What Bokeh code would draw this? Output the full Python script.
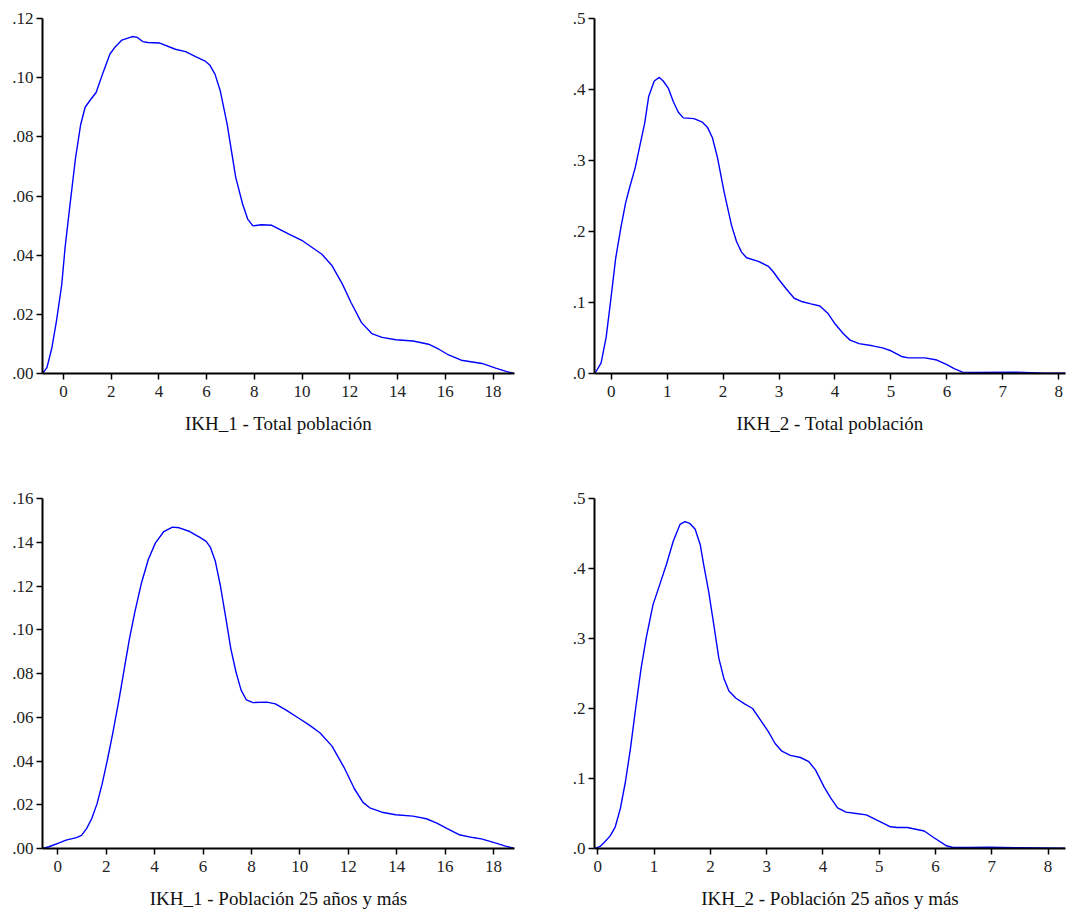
from bokeh.plotting import figure
from bokeh.layouts import gridplot
from bokeh.models import Range1d, FixedTicker
from bokeh.embed import file_html
from bokeh.resources import INLINE

# ---------------- data ----------------
titles = ["IKH_1 - Total población", "IKH_2 - Total población",
          "IKH_1 - Población 25 años y más", "IKH_2 - Población 25 años y más"]

ikh1_total_x = [-0.88, -0.69, -0.48, -0.29, -0.07, 0.07, 0.29, 0.51, 0.72, 0.91, 1.15, 1.37, 1.66, 1.95,
                2.17, 2.45, 2.89, 3.10, 3.32, 3.54, 4.04, 4.69, 5.12, 5.56, 5.92, 6.13, 6.35, 6.57, 6.86,
                7.22, 7.51, 7.72, 7.94, 8.30, 8.73, 9.45, 10.03, 10.83, 11.26, 11.69, 12.05, 12.49, 12.92,
                13.35, 13.93, 14.65, 15.30, 15.73, 16.09, 16.67, 17.54, 18.11, 18.55, 18.90]
ikh1_total_y = [0.0, 0.002, 0.0088, 0.0178, 0.030, 0.0426, 0.058, 0.073, 0.084, 0.090, 0.0927, 0.095,
                0.1017, 0.108, 0.1104, 0.1127, 0.1139, 0.1136, 0.1122, 0.1119, 0.1117, 0.1096, 0.1088,
                0.1070, 0.1057, 0.1043, 0.1012, 0.0956, 0.0843, 0.0663, 0.0572, 0.0522, 0.0499, 0.0503,
                0.0501, 0.0471, 0.0448, 0.0403, 0.0364, 0.0302, 0.0240, 0.0172, 0.0135, 0.0122, 0.0114,
                0.0110, 0.0099, 0.0082, 0.0065, 0.0045, 0.0034, 0.0018, 0.0007, 0.0]

ikh2_total_x = [-0.29, -0.18, -0.09, -0.01, 0.08, 0.17, 0.26, 0.33, 0.43, 0.50, 0.60, 0.67, 0.77, 0.86,
                0.93, 1.02, 1.11, 1.20, 1.29, 1.48, 1.63, 1.72, 1.81, 1.90, 2.02, 2.15, 2.24, 2.33, 2.42,
                2.63, 2.81, 2.90, 3.00, 3.12, 3.27, 3.42, 3.57, 3.73, 3.88, 4.00, 4.15, 4.27, 4.43, 4.67,
                4.85, 5.00, 5.19, 5.31, 5.61, 5.82, 6.01, 6.13, 6.28, 6.52, 7.25, 7.74, 8.27]
ikh2_total_y = [0.0, 0.015, 0.051, 0.102, 0.162, 0.204, 0.241, 0.262, 0.290, 0.316, 0.353, 0.390, 0.412,
                0.417, 0.412, 0.402, 0.383, 0.368, 0.360, 0.359, 0.354, 0.347, 0.332, 0.304, 0.255, 0.209,
                0.186, 0.171, 0.163, 0.158, 0.151, 0.143, 0.132, 0.120, 0.106, 0.101, 0.098, 0.095, 0.084,
                0.070, 0.056, 0.047, 0.042, 0.039, 0.036, 0.032, 0.024, 0.022, 0.022, 0.019, 0.012, 0.007,
                0.002, 0.0014, 0.0019, 0.0005, 0.0005]

ikh1_25_x = [-0.63, -0.37, 0.06, 0.34, 0.77, 0.98, 1.19, 1.40, 1.62, 1.83, 2.04, 2.26, 2.54, 2.75, 2.96,
             3.18, 3.46, 3.74, 4.03, 4.38, 4.74, 5.02, 5.45, 5.87, 6.13, 6.30, 6.51, 6.72, 6.95, 7.15,
             7.36, 7.57, 7.79, 8.07, 8.64, 8.99, 9.42, 9.99, 10.41, 10.84, 11.33, 11.83, 12.26, 12.61,
             12.89, 13.39, 13.96, 14.67, 15.23, 15.66, 16.09, 16.58, 17.15, 17.50, 18.07, 18.50, 18.87]
ikh1_25_y = [0.0, 0.0008, 0.0026, 0.0038, 0.0050, 0.0060, 0.0091, 0.0136, 0.0204, 0.0294, 0.0400,
             0.0521, 0.0687, 0.0823, 0.0958, 0.1079, 0.1215, 0.1321, 0.1396, 0.1449, 0.1469, 0.1466,
             0.1449, 0.1422, 0.1404, 0.1378, 0.1313, 0.1200, 0.1049, 0.0913, 0.0808, 0.0725, 0.0679,
             0.0667, 0.0669, 0.0661, 0.0634, 0.0593, 0.0563, 0.0528, 0.0468, 0.0370, 0.0272, 0.0211,
             0.0186, 0.0166, 0.0154, 0.0148, 0.0136, 0.0116, 0.0091, 0.0063, 0.0050, 0.0044, 0.0026,
             0.0011, 0.0]

ikh2_25_x = [-0.05, 0.04, 0.13, 0.22, 0.31, 0.40, 0.49, 0.58, 0.68, 0.77, 0.86, 0.98, 1.10, 1.22, 1.34,
             1.46, 1.55, 1.64, 1.73, 1.82, 1.88, 1.97, 2.06, 2.15, 2.24, 2.33, 2.45, 2.60, 2.75, 2.87,
             3.03, 3.15, 3.27, 3.42, 3.60, 3.75, 3.87, 4.02, 4.14, 4.26, 4.41, 4.59, 4.77, 4.95, 5.20,
             5.32, 5.50, 5.80, 5.98, 6.19, 6.31, 6.58, 6.94, 7.43, 8.30]
ikh2_25_y = [0.0, 0.003, 0.010, 0.018, 0.031, 0.057, 0.095, 0.143, 0.205, 0.258, 0.301, 0.348, 0.377,
             0.406, 0.439, 0.463, 0.467, 0.464, 0.456, 0.434, 0.406, 0.367, 0.320, 0.272, 0.243, 0.225,
             0.215, 0.207, 0.200, 0.186, 0.167, 0.150, 0.139, 0.133, 0.130, 0.124, 0.112, 0.088, 0.072,
             0.058, 0.052, 0.050, 0.048, 0.041, 0.031, 0.030, 0.030, 0.025, 0.015, 0.004, 0.0014, 0.0014,
             0.002, 0.001, 0.0005]

x_ticks_1 = [0, 2, 4, 6, 8, 10, 12, 14, 16, 18]
x_ticks_2 = [0, 1, 2, 3, 4, 5, 6, 7, 8]
y_ticks_1 = [0.0, 0.02, 0.04, 0.06, 0.08, 0.10, 0.12]
y_labels_1 = [".00", ".02", ".04", ".06", ".08", ".10", ".12"]
y_ticks_3 = [0.0, 0.02, 0.04, 0.06, 0.08, 0.10, 0.12, 0.14, 0.16]
y_labels_3 = [".00", ".02", ".04", ".06", ".08", ".10", ".12", ".14", ".16"]
y_ticks_2 = [0.0, 0.1, 0.2, 0.3, 0.4, 0.5]
y_labels_2 = [".0", ".1", ".2", ".3", ".4", ".5"]

FONT = "'Liberation Serif', 'Times New Roman', serif"


def panel(x, y, xr, yr, xt, yt, yl, title, w, h, bl, br, bt, bb):
    p = figure(width=w, height=h, x_range=Range1d(*xr), y_range=Range1d(*yr),
               output_backend="svg", toolbar_location=None,
               min_border_left=bl, min_border_right=br, min_border_top=bt, min_border_bottom=bb)
    p.line(x, y, line_color="#0000FF", line_width=1.4)
    p.outline_line_color = None
    p.grid.visible = False
    p.background_fill_color = "white"
    p.border_fill_color = "white"
    p.xaxis.ticker = FixedTicker(ticks=xt)
    p.yaxis.ticker = FixedTicker(ticks=yt)
    p.yaxis.major_label_overrides = {t: l for t, l in zip(yt, yl)}
    p.xaxis.major_label_overrides = {t: str(t) for t in xt}
    for ax in (p.xaxis, p.yaxis):
        ax.axis_line_color = "black"
        ax.axis_line_width = 2
        ax.major_tick_line_color = "black"
        ax.major_tick_line_width = 1.5
        ax.major_tick_in = 0
        ax.major_tick_out = 6
        ax.minor_tick_line_color = None
        ax.major_label_text_font = FONT
        ax.major_label_text_font_size = "17px"
        ax.major_label_text_color = "#222222"
    p.yaxis.major_label_standoff = 3
    p.xaxis.major_label_standoff = 6
    p.xaxis.axis_label = title
    p.xaxis.axis_label_text_font = FONT
    p.xaxis.axis_label_text_font_size = "19px"
    p.xaxis.axis_label_text_font_style = "normal"
    p.xaxis.axis_label_text_color = "#111111"
    p.xaxis.axis_label_standoff = 13
    return p


p1 = panel(ikh1_total_x, ikh1_total_y, (-0.876, 18.90), (0, 0.12), x_ticks_1, y_ticks_1, y_labels_1,
           titles[0], 540, 470, 41, 25, 18, 97)
p2 = panel(ikh2_total_x, ikh2_total_y, (-0.298, 8.12), (0, 0.5), x_ticks_2, y_ticks_2, y_labels_2,
           titles[1], 532, 470, 54, 0, 14, 97)
p3 = panel(ikh1_25_x, ikh1_25_y, (-0.632, 18.87), (0, 0.16), x_ticks_1, y_ticks_3, y_labels_3,
           titles[2], 540, 442, 42, 26, 22, 64)
p4 = panel(ikh2_25_x, ikh2_25_y, (-0.059, 8.31), (0, 0.5), x_ticks_2, y_ticks_2, y_labels_2,
           titles[3], 532, 442, 54, 7, 28, 62)

grid = gridplot([[p1, p2], [p3, p4]], toolbar_location=None)

open("out.html", "w").write(file_html(grid, INLINE))
